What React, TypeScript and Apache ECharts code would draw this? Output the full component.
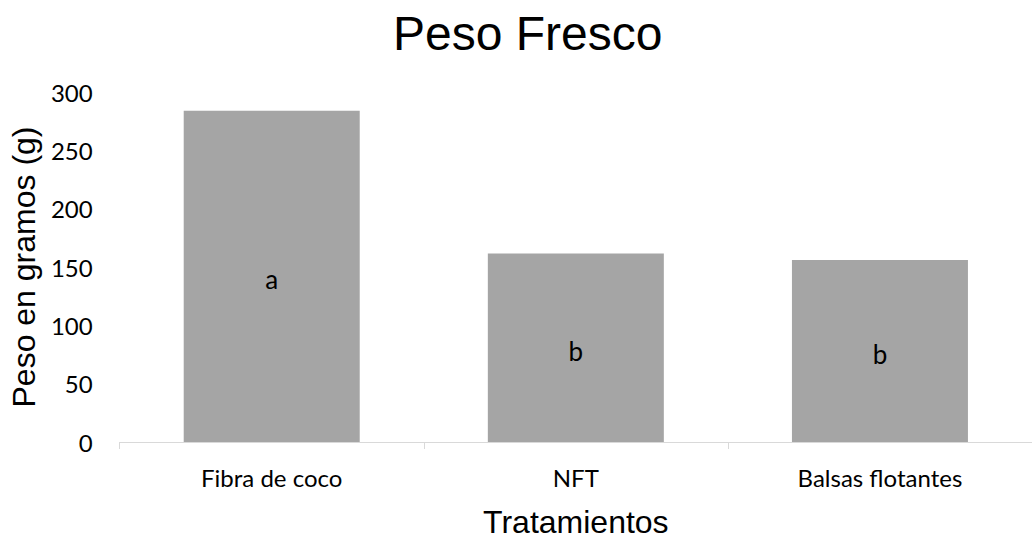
import React, { useEffect, useRef } from "react";
import * as echarts from "echarts";

const categories = ["Fibra de coco", "NFT", "Balsas flotantes"];
const values = [284, 161.5, 156];
const letters = ["a", "b", "b"];
const yTicks = { min: 0, max: 300, interval: 50 };

export default function App() {
  const ref = useRef<HTMLDivElement>(null);
  useEffect(() => {
    document.body.style.margin = "0";
    const chart = echarts.init(ref.current!, null, { renderer: "svg" });
    chart.setOption({
      animation: false,
      backgroundColor: "#ffffff",
      title: {
        text: "Peso Fresco",
        left: 388,
        top: 4,
        textStyle: { fontFamily: "Liberation Sans", fontSize: 48, fontWeight: "normal", color: "#000" },
      },
      grid: { left: 117, right: -8, top: 92, bottom: 92, containLabel: false },
      xAxis: {
        type: "category",
        data: categories,
        name: "Tratamientos",
        nameLocation: "middle",
        nameGap: 64,
        nameTextStyle: { fontFamily: "Liberation Sans", fontSize: 32, color: "#000" },
        axisLine: { show: true, lineStyle: { color: "#d9d9d9", width: 1 } },
        axisTick: { show: true, length: 7, lineStyle: { color: "#d9d9d9" } },
        axisLabel: { fontFamily: "Lato", fontSize: 24, color: "#000", margin: 23 },
      },
      yAxis: {
        type: "value",
        min: yTicks.min,
        max: yTicks.max,
        interval: yTicks.interval,
        name: "Peso en gramos (g)",
        nameLocation: "middle",
        nameGap: 76,
        nameTextStyle: { fontFamily: "Liberation Sans", fontSize: 32, color: "#000" },
        axisLine: { show: false },
        axisTick: { show: false },
        splitLine: { show: false },
        axisLabel: { fontFamily: "Lato", fontSize: 24, color: "#000", margin: 27 },
      },
      series: [
        {
          type: "bar",
          data: values,
          barWidth: 176,
          itemStyle: { color: "#a5a5a5" },
          label: {
            show: true,
            position: "inside",
            formatter: (p: any) => letters[p.dataIndex],
            fontFamily: "Lato",
            fontSize: 26,
            color: "#000",
            offset: [0, 3],
          },
        },
      ],
    });
    return () => chart.dispose();
  }, []);
  return <div ref={ref} style={{ width: 1032, height: 543, overflow: "hidden" }} />;
}
